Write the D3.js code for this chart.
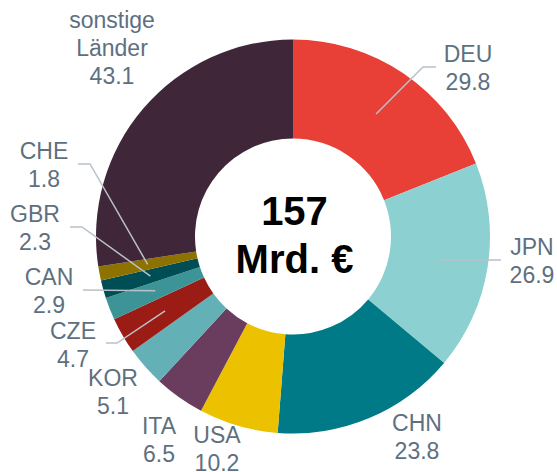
<!DOCTYPE html>
<html>
<head>
<meta charset="utf-8">
<script src="https://cdn.jsdelivr.net/npm/d3@7.9.0/dist/d3.min.js"></script>
<style>
  html, body { margin: 0; padding: 0; background: #fff; }
  svg { display: block; font-family: "Liberation Sans", Arial, sans-serif; }
</style>
</head>
<body>
<svg id="chart" width="557" height="472"></svg>
<script>
// data, clockwise from 12 o'clock
const countries = ['DEU', 'JPN', 'CHN', 'USA', 'ITA', 'KOR', 'CZE', 'CAN', 'GBR', 'CHE', 'sonstige Länder'];
const values = [29.8, 26.9, 23.8, 10.2, 6.5, 5.1, 4.7, 2.9, 2.3, 1.8, 43.1];
const totalLabel = ['157', 'Mrd. €'];

const colors = ['#e84036', '#8dd0d1', '#007a86', '#ecc100', '#6a3c5d', '#63b0b7',
                '#9b1b15', '#3c9496', '#004e55', '#8e7200', '#3f2639'];

// label placement: text centre x, first baseline y, optional leader bend/end
const labelLayout = {
  'DEU': { x: 468, y: 62, bend: [423, 67], end: [436, 67] },
  'JPN': { x: 532, y: 255, end: [501, 260] },
  'CHN': { x: 417, y: 431 },
  'USA': { x: 217, y: 443 },
  'ITA': { x: 159, y: 434 },
  'KOR': { x: 113, y: 386 },
  'CZE': { x: 73, y: 339, bend: [117, 343], end: [106, 343] },
  'CAN': { x: 49, y: 285, end: [83, 290] },
  'GBR': { x: 35, y: 222, bend: [82, 227], end: [70, 227] },
  'CHE': { x: 44, y: 159, bend: [90, 164], end: [78, 164] },
  'sonstige Länder': { x: 112, y: 28 }
};

const cx = 293, cy = 236.5;
const outerR = 197, innerR = 98;

const svg = d3.select('#chart');

const pie = d3.pie().sort(null).value(d => d.value);
const rows = countries.map((c, i) => ({ name: c, value: values[i], color: colors[i] }));
const arcsData = pie(rows);

const arcGen = d3.arc().innerRadius(innerR).outerRadius(outerR);
const midArc = d3.arc().innerRadius(148).outerRadius(148);

const g = svg.append('g').attr('transform', `translate(${cx},${cy})`);

g.selectAll('path.slice')
  .data(arcsData)
  .join('path')
  .attr('class', 'slice')
  .attr('d', arcGen)
  .attr('fill', d => d.data.color);

// centre text
const centre = svg.append('text')
  .attr('x', cx + 1.5)
  .attr('text-anchor', 'middle')
  .attr('font-weight', 'bold')
  .attr('font-size', 40)
  .attr('fill', '#000');
totalLabel.forEach((t, i) => {
  centre.append('tspan').attr('x', cx + 1.5).attr('y', 225 + i * 48).text(t);
});

// leader lines
const line = d3.line();
arcsData.forEach(d => {
  const lay = labelLayout[d.data.name];
  if (!lay.end) return;
  const c = midArc.centroid(d);
  const pts = [[cx + c[0], cy + c[1]]];
  if (lay.bend) pts.push(lay.bend);
  pts.push(lay.end);
  svg.append('path')
    .attr('d', line(pts))
    .attr('fill', 'none')
    .attr('stroke', '#b9c1c7')
    .attr('stroke-width', 1.5);
});

// labels
arcsData.forEach(d => {
  const lay = labelLayout[d.data.name];
  const lines = d.data.name.split(' ').concat([d3.format('.1f')(d.data.value)]);
  const t = svg.append('text')
    .attr('text-anchor', 'middle')
    .attr('font-size', 23)
    .attr('fill', '#5e7080');
  lines.forEach((s, i) => {
    t.append('tspan').attr('x', lay.x).attr('y', lay.y + i * 27.8).text(s);
  });
});
</script>
</body>
</html>
